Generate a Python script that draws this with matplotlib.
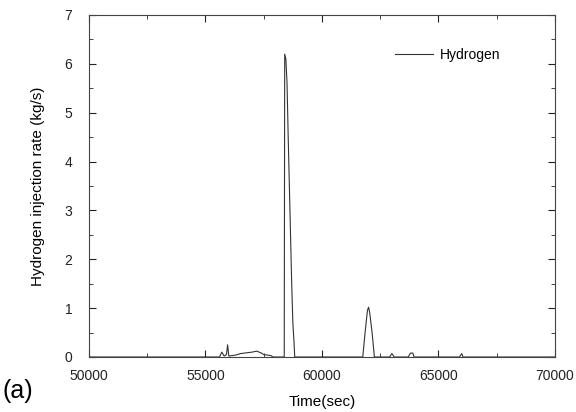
import matplotlib
matplotlib.use("Agg")
import matplotlib.pyplot as plt
from matplotlib.ticker import MultipleLocator

time_s = [50000, 55600, 55700, 55800, 55900, 55950, 56000, 56300, 56500, 57000, 57200,
          57400, 57500, 57800, 57900,
          58380, 58400, 58450, 58500, 58550, 58600, 58650, 58700, 58750, 58800, 58830,
          61750, 61850, 61950, 62000, 62050, 62150, 62250,
          62900, 63000, 63100,
          63700, 63800, 63900, 63950,
          65900, 66000, 66050, 70000]
rate = [0, 0, 0.1, 0.02, 0.05, 0.25, 0.02, 0.04, 0.07, 0.1, 0.12,
        0.08, 0.05, 0.03, 0,
        0, 6.2, 6.1, 5.6, 4.5, 3.5, 2.5, 1.5, 0.7, 0.3, 0,
        0, 0.5, 0.95, 1.02, 0.9, 0.5, 0,
        0, 0.07, 0,
        0, 0.08, 0.08, 0,
        0, 0.07, 0, 0]

x_ticks = [50000, 55000, 60000, 65000, 70000]
y_ticks = [0, 1, 2, 3, 4, 5, 6, 7]

plt.rcParams['font.family'] = ['Liberation Sans', 'DejaVu Sans']
fig = plt.figure(figsize=(5.76, 4.12), dpi=100)
ax = fig.add_axes([0.1545, 0.1335, 0.809, 0.8301])
ax.plot(time_s, rate, color='#333333', lw=0.8, label='Hydrogen')
ax.set_xlim(50000, 70000)
ax.set_ylim(0, 7)
ax.set_xticks(x_ticks)
ax.set_yticks(y_ticks)
ax.xaxis.set_minor_locator(MultipleLocator(2500))
ax.yaxis.set_minor_locator(MultipleLocator(0.5))
ax.tick_params(which='both', direction='in', top=True, right=True, labelsize=10, colors='#222222')
ax.tick_params(which='major', length=5)
ax.tick_params(which='minor', length=3)
ax.tick_params(axis='x', pad=9)
ax.tick_params(axis='y', pad=12)
for s in ax.spines.values():
    s.set_linewidth(0.8)
    s.set_color('#444444')
ax.set_xlabel('Time(sec)', fontsize=11, labelpad=8)
ax.set_ylabel('Hydrogen injection rate (kg/s)', fontsize=11, labelpad=14)
ax.legend(loc='upper left', bbox_to_anchor=(0.63, 0.94), frameon=False, fontsize=10,
          handlelength=2.7, handletextpad=0.5)
fig.text(0.005, 0.035, '(a)', fontsize=18)
fig.savefig('out.png', dpi=100)
